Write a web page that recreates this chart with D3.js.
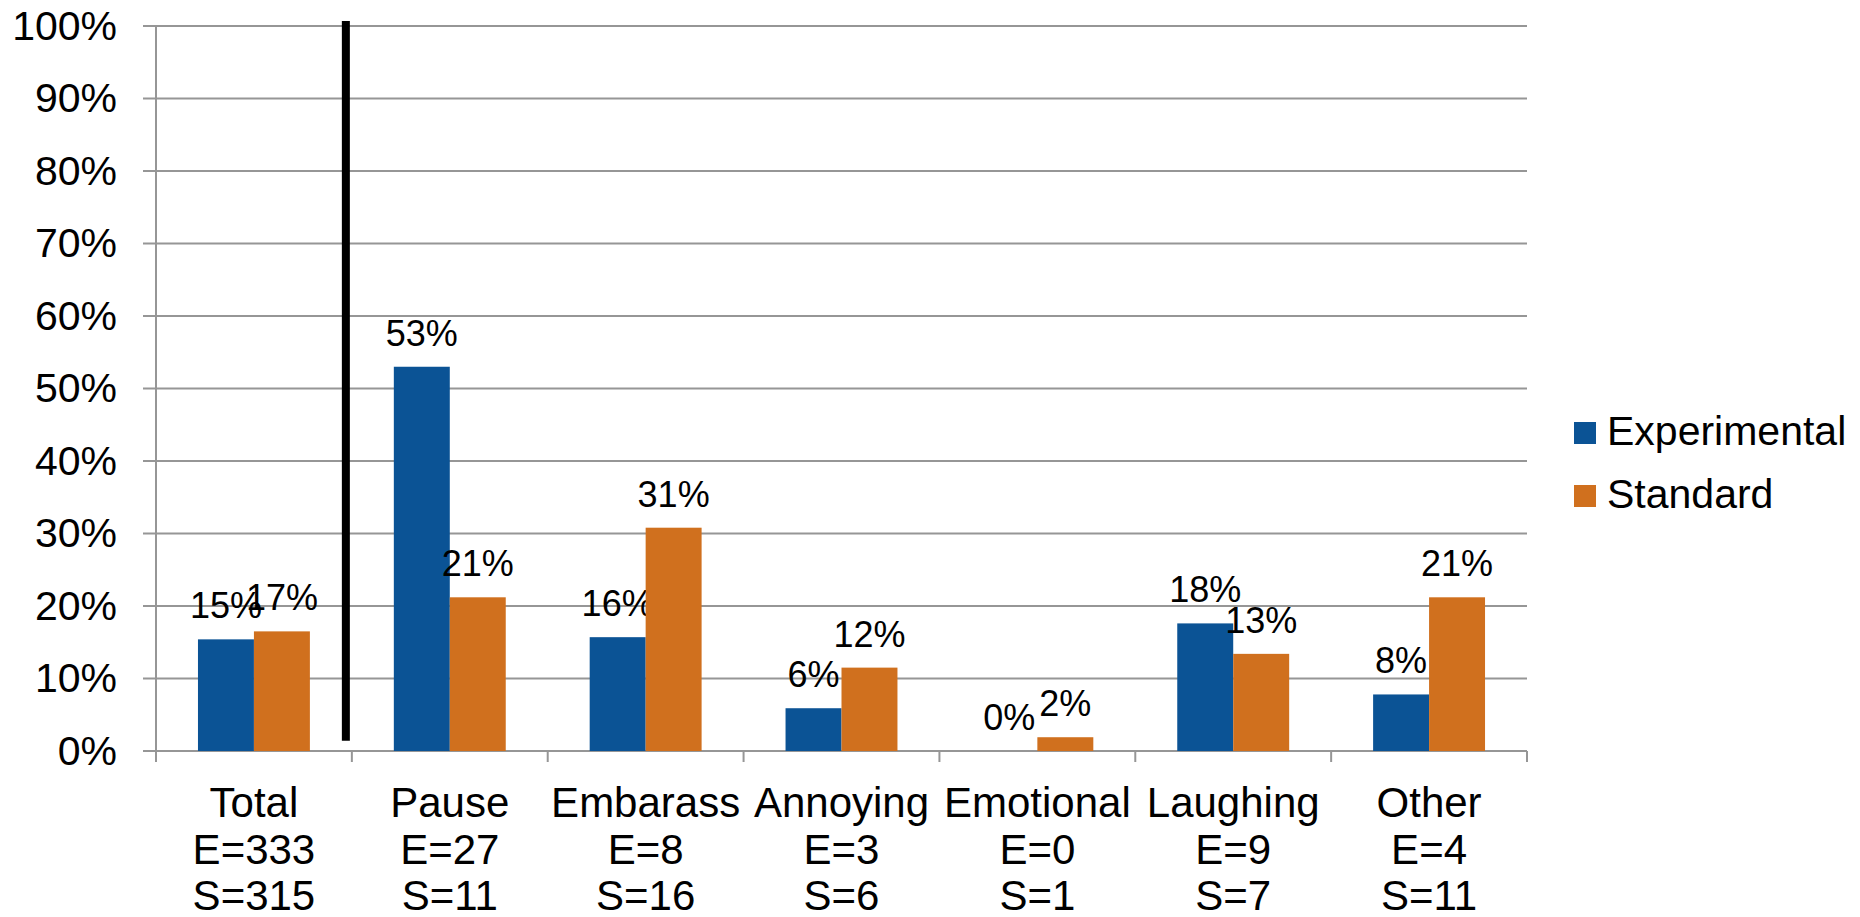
<!DOCTYPE html>
<html lang="en">
<head>
    <meta charset="UTF-8">
    <title>Experimental vs Standard</title>
    <script src="https://d3js.org/d3.v7.min.js"></script>
    <style type="text/css">
        body { margin: 0; background: #fff; }
        text { font-family: "Liberation Sans", Arial, sans-serif; fill: #000; }
        .grid line { stroke: #969696; stroke-width: 2px; }
        .axis text { font-size: 41px; }
        .cat text { font-size: 42px; }
        .label { font-size: 36px; }
        .legend text { font-size: 41px; }
    </style>
</head>
<body>
    <script type="text/javascript">
        const categories = ["Total", "Pause", "Embarass", "Annoying", "Emotional", "Laughing", "Other"];
        const eCounts = [333, 27, 8, 3, 0, 9, 4];
        const sCounts = [315, 11, 16, 6, 1, 7, 11];
        const experimental = [15.4, 53.0, 15.7, 5.9, 0, 17.6, 7.8];
        const standard = [16.5, 21.2, 30.8, 11.5, 1.9, 13.4, 21.2];
        const seriesNames = ["Experimental", "Standard"];
        const colors = ["#0b5395", "#d0701e"];
        const yTicks = [0, 10, 20, 30, 40, 50, 60, 70, 80, 90, 100];

        const width = 1860;
        const height = 917;
        const mLeft = 156, mRight = 1527, mTop = 26, mBottom = 751;

        const svg = d3.select("body")
            .append("svg")
            .attr("width", width)
            .attr("height", height);

        const x = d3.scaleBand()
            .domain(categories)
            .range([mLeft, mRight]);

        const xInner = d3.scaleBand()
            .domain(seriesNames)
            .range([0, x.bandwidth()])
            .paddingInner(0)
            .paddingOuter(0.75);

        const y = d3.scaleLinear()
            .domain([0, 100])
            .range([mBottom, mTop]);

        // gridlines
        svg.append("g")
            .attr("class", "grid")
            .selectAll("line")
            .data(yTicks)
            .join("line")
            .attr("x1", mLeft - 13)
            .attr("x2", mRight)
            .attr("y1", d => y(d))
            .attr("y2", d => y(d));

        // y axis
        const yAxis = svg.append("g")
            .attr("class", "axis")
            .attr("transform", `translate(${mLeft},0)`)
            .call(d3.axisLeft(y).tickValues(yTicks).tickSize(0).tickPadding(39).tickFormat(d => d + "%"));
        yAxis.select(".domain").remove();

        svg.append("line")
            .attr("x1", mLeft).attr("x2", mLeft)
            .attr("y1", mTop).attr("y2", mBottom + 11)
            .attr("stroke", "#969696")
            .attr("stroke-width", 2);

        // x tick marks at category boundaries
        const bounds = categories.map(c => x(c)).concat([x.range()[1]]);
        svg.append("g")
            .attr("class", "grid")
            .selectAll("line")
            .data(bounds.slice(1))
            .join("line")
            .attr("x1", d => d).attr("x2", d => d)
            .attr("y1", mBottom).attr("y2", mBottom + 11);

        // bars
        const groups = svg.append("g")
            .selectAll("g")
            .data(categories)
            .join("g")
            .attr("transform", d => `translate(${x(d)},0)`);

        groups.each(function(c, i) {
            const g = d3.select(this);
            const v = [experimental[i], standard[i]];
            seriesNames.forEach((s, j) => {
                g.append("rect")
                    .attr("x", xInner(s))
                    .attr("width", xInner.bandwidth())
                    .attr("y", y(v[j]))
                    .attr("height", y(0) - y(v[j]))
                    .attr("fill", colors[j]);
                g.append("text")
                    .attr("class", "label")
                    .attr("x", xInner(s) + xInner.bandwidth() / 2)
                    .attr("y", y(v[j]) - 21)
                    .attr("text-anchor", "middle")
                    .text(Math.round(v[j]) + "%");
            });
        });

        // category labels
        const catG = svg.append("g").attr("class", "cat");
        categories.forEach((c, i) => {
            const t = catG.append("text")
                .attr("text-anchor", "middle")
                .attr("transform", `translate(${x(c) + x.bandwidth() / 2},${mBottom + 66})`);
            [c, "E=" + eCounts[i], "S=" + sCounts[i]].forEach((line, k) => {
                t.append("tspan")
                    .attr("x", 0)
                    .attr("y", k * 46.5)
                    .text(line);
            });
        });

        // separator line between Total and the rest
        svg.append("line")
            .attr("x1", x("Pause") - 6).attr("x2", x("Pause") - 6)
            .attr("y1", y(100.7)).attr("y2", y(1.4))
            .attr("stroke", "#000")
            .attr("stroke-width", 8);

        // legend
        const legend = svg.append("g").attr("class", "legend");
        seriesNames.forEach((s, j) => {
            legend.append("rect")
                .attr("x", 1574)
                .attr("y", 422 + j * 63)
                .attr("width", 22)
                .attr("height", 22)
                .attr("fill", colors[j]);
            legend.append("text")
                .attr("x", 1607)
                .attr("y", 445 + j * 63)
                .text(s);
        });
    </script>
</body>
</html>
